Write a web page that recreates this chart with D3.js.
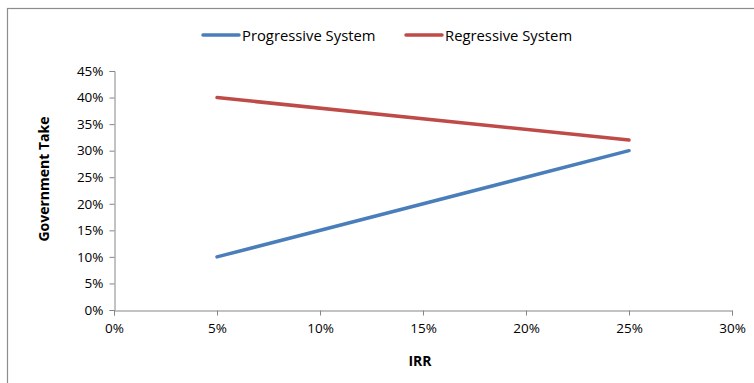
<!DOCTYPE html>
<html>
<head>
<meta charset="utf-8">
<script src="https://cdn.jsdelivr.net/npm/d3@7"></script>
<style>
  body { margin: 0; background: #fff; }
  svg text { font-family: "Open Sans", "Noto Sans", sans-serif; fill: #000; }
</style>
</head>
<body>
<div id="chart"></div>
<script>
const irr = [0.05, 0.25];
const progressive = [0.10, 0.30];
const regressive = [0.40, 0.32];
const xTicks = [0, 0.05, 0.10, 0.15, 0.20, 0.25, 0.30];
const yTicks = [0, 0.05, 0.10, 0.15, 0.20, 0.25, 0.30, 0.35, 0.40, 0.45];

const width = 754;
const height = 383;

const series = [
  { name: "Progressive System", values: progressive, color: "#4a7ebb" },
  { name: "Regressive System", values: regressive, color: "#be4b48" }
];

const svg = d3.select("#chart")
  .append("svg")
  .attr("width", width)
  .attr("height", height);

// outer chart frame (runs past the right and bottom edges)
svg.append("rect")
  .attr("x", 7.5)
  .attr("y", 8.5)
  .attr("width", 800)
  .attr("height", 400)
  .attr("fill", "#fff")
  .attr("stroke", "#8c8c8c")
  .attr("stroke-width", 1.2);

const x = d3.scaleLinear().domain([0, 0.30]).range([114, 732]);
const y = d3.scaleLinear().domain([0, 0.45]).range([310, 71]);

const pct = d3.format(".0%");

const xAxis = svg.append("g")
  .attr("transform", `translate(0,${y(0) + 0.5})`)
  .call(d3.axisBottom(x).tickValues(xTicks).tickFormat(pct).tickSize(5).tickPadding(8));

const yAxis = svg.append("g")
  .attr("transform", `translate(${x(0) + 0.5},0)`)
  .call(d3.axisLeft(y).tickValues(yTicks).tickFormat(pct).tickSize(5).tickPadding(6));

[xAxis, yAxis].forEach(g => {
  g.select(".domain").attr("stroke", "#868686");
  g.selectAll(".tick line").attr("stroke", "#868686");
  g.selectAll(".tick text")
    .attr("font-size", 13.5)
    .attr("font-family", "\"Open Sans\", \"Noto Sans\", sans-serif")
    .attr("fill", "#000");
});

const line = d3.line()
  .x((d, i) => x(irr[i]))
  .y(d => y(d));

series.forEach(s => {
  svg.append("path")
    .datum(s.values)
    .attr("fill", "none")
    .attr("stroke", s.color)
    .attr("stroke-width", 3.5)
    .attr("stroke-linecap", "round")
    .attr("d", line);
});

// axis titles
svg.append("text")
  .attr("x", x(0.15) - 3)
  .attr("y", 366)
  .attr("text-anchor", "middle")
  .attr("font-size", 14)
  .attr("font-weight", "bold")
  .text("IRR");

svg.append("text")
  .attr("transform", `translate(49,179) rotate(-90)`)
  .attr("text-anchor", "middle")
  .attr("font-size", 14)
  .attr("font-weight", "bold")
  .text("Government Take");

// legend
const legendX = [203, 406];
const legend = svg.selectAll("g.legend")
  .data(series)
  .enter()
  .append("g")
  .attr("class", "legend")
  .attr("transform", (d, i) => `translate(${legendX[i]},35)`);

legend.append("line")
  .attr("x1", 0)
  .attr("x2", 36)
  .attr("stroke", d => d.color)
  .attr("stroke-width", 3.5)
  .attr("stroke-linecap", "round");

legend.append("text")
  .attr("x", 39)
  .attr("y", 5.5)
  .attr("font-size", 14.8)
  .text(d => d.name);
</script>
</body>
</html>
